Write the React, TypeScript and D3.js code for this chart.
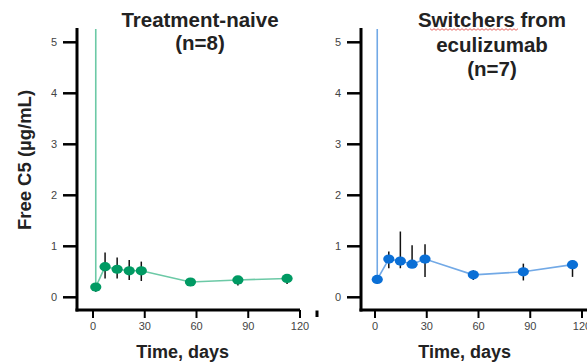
import React from "react";
import * as d3 from "d3";

// Free C5 concentrations over time (mean with error range), per group
const naiveDays = [1.6, 7, 14, 21, 28, 56.5, 84, 112.5];
const naiveMean = [0.2, 0.6, 0.55, 0.52, 0.52, 0.3, 0.34, 0.37];
const naiveUpper = [0.2, 0.88, 0.78, 0.73, 0.7, 0.37, 0.4, 0.45];
const naiveLower = [0.11, 0.37, 0.37, 0.34, 0.32, 0.22, 0.23, 0.26];
const naivePredose = 110;

const switchDays = [1.3, 8, 14.7, 21.5, 29, 57, 86, 114.5];
const switchMean = [0.35, 0.75, 0.71, 0.65, 0.75, 0.44, 0.5, 0.64];
const switchUpper = [0.35, 0.9, 1.29, 1.02, 1.04, 0.53, 0.66, 0.73];
const switchLower = [0.26, 0.57, 0.57, 0.6, 0.4, 0.34, 0.33, 0.4];
const switchPredose = 60;

const yTicks = [0, 1, 2, 3, 4, 5];
const xTicks = [0, 30, 60, 90, 120];

const FONT = "'Liberation Sans', Arial, sans-serif";

type PanelProps = {
  x0: number;
  axisX: number;
  axisRight: number;
  days: number[];
  mean: number[];
  upper: number[];
  lower: number[];
  predose: number;
  marker: string;
  line: string;
  id: string;
};

const yScale = d3.scaleLinear().domain([0, 5]).range([297.3, 42.3]);
const AXIS_Y = 310;
const TOP = 28;

function Panel(p: PanelProps) {
  const x = d3.scaleLinear().domain([0, 120]).range([p.x0, p.x0 + 207]);
  const pts = p.days.map((d, i) => [x(d), yScale(p.mean[i])] as [number, number]);
  const lineGen = d3.line();
  const path = lineGen([[x(p.days[0]), yScale(p.predose)], ...pts]) || "";
  return (
    <g>
      <defs>
        <clipPath id={`clip-${p.id}`}>
          <rect x={p.axisX + 2} y={TOP + 1} width={300} height={AXIS_Y - TOP - 3} />
        </clipPath>
      </defs>
      {/* y axis */}
      <line x1={p.axisX} x2={p.axisX} y1={TOP} y2={AXIS_Y + 1.5} stroke="#000" strokeWidth={3} />
      {yTicks.map((t) => (
        <g key={t}>
          <line x1={p.axisX - 14} x2={p.axisX} y1={yScale(t)} y2={yScale(t)} stroke="#000" strokeWidth={2.5} />
          <text x={p.axisX - 20} y={yScale(t)} dy="0.35em" textAnchor="end" fontSize={11} fill="#444" fontFamily={FONT}>
            {t}
          </text>
        </g>
      ))}
      {/* x axis */}
      <line x1={p.axisX - 1.5} x2={p.axisRight} y1={AXIS_Y} y2={AXIS_Y} stroke="#000" strokeWidth={3} />
      {xTicks.map((t) => (
        <g key={t}>
          <line x1={x(t)} x2={x(t)} y1={AXIS_Y} y2={AXIS_Y + 8} stroke="#000" strokeWidth={2} />
          <text x={x(t)} y={326} dy="0.35em" textAnchor="middle" fontSize={11} fill="#444" fontFamily={FONT}>
            {t}
          </text>
        </g>
      ))}
      <text x={x(52)} y={358} textAnchor="middle" fontSize={18} fontWeight="bold" fill="#222" fontFamily={FONT}>
        Time, days
      </text>
      <g clipPath={`url(#clip-${p.id})`}>
        <path d={path} fill="none" stroke={p.line} strokeWidth={1.6} />
        {p.days.map((d, i) => (
          <line key={i} x1={x(d)} x2={x(d)} y1={yScale(p.upper[i])} y2={yScale(p.lower[i])} stroke="#111" strokeWidth={1.5} />
        ))}
        {pts.map(([cx, cy], i) => (
          <ellipse key={i} cx={cx} cy={cy} rx={5.6} ry={4.6} fill={p.marker} />
        ))}
      </g>
    </g>
  );
}

export default function App() {
  // wavy spell-check underline beneath "Switchers"
  const wave: [number, number][] = [];
  for (let i = 0; i <= 44; i++) wave.push([430 + i * 2, 29.5 + (i % 2 === 0 ? -0.8 : 0.8)]);
  const wavePath = d3.line()(wave) || "";
  return (
    <svg width={587} height={364} style={{ position: "absolute", left: 0, top: 0, background: "#fff" }}>
      <text
        transform="translate(31,160) rotate(-90)"
        textAnchor="middle"
        fontSize={18.5}
        fontWeight="bold"
        fill="#222"
        fontFamily={FONT}
      >
        Free C5 (µg/mL)
      </text>
      <Panel
        id="naive"
        x0={93}
        axisX={77}
        axisRight={300}
        days={naiveDays}
        mean={naiveMean}
        upper={naiveUpper}
        lower={naiveLower}
        predose={naivePredose}
        marker="#009a63"
        line="#6cc9a6"
      />
      <Panel
        id="switch"
        x0={375}
        axisX={361}
        axisRight={590}
        days={switchDays}
        mean={switchMean}
        upper={switchUpper}
        lower={switchLower}
        predose={switchPredose}
        marker="#0a6fd6"
        line="#72a9e6"
      />
      <rect x={315.5} y={310.5} width={3} height={6.5} fill="#000" />
      <g fontFamily={FONT} fontWeight="bold" fill="#222" fontSize={20.5} textAnchor="middle">
        <text x={200} y={27}>Treatment-naive</text>
        <text x={200} y={50}>(n=8)</text>
        <text x={492} y={27}>Switchers from</text>
        <text x={492} y={52}>eculizumab</text>
        <text x={492} y={76}>(n=7)</text>
      </g>
      <path d={wavePath} fill="none" stroke="#e0403a" strokeWidth={0.8} />
    </svg>
  );
}
